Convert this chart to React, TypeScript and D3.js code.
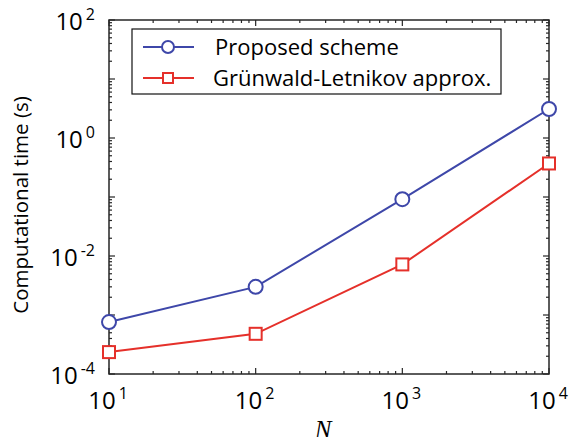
import { useEffect, useRef } from "react";
import * as d3 from "d3";

const nValues = [10, 100, 1000, 10000];
const proposedTimes = [7.6e-4, 3.0e-3, 0.092, 3.1];
const glTimes = [2.35e-4, 4.8e-4, 7.2e-3, 0.37];
const xTickExps = [1, 2, 3, 4];
const yTickExps = [-4, -2, 0, 2];
const seriesNames = ["Proposed scheme", "Grünwald-Letnikov approx."];

const BLUE = "#3e47a9";
const RED = "#e5302a";
const FONT = "'Open Sans', 'Noto Sans', sans-serif";

function App() {
  const ref = useRef<SVGSVGElement>(null);

  useEffect(() => {
    const svg = d3.select(ref.current);
    svg.selectAll("*").remove(); // Clear before redraw

    const width = 580;
    const height = 445;
    const margin = { top: 20, right: 31, bottom: 71, left: 109 };
    const w = width - margin.left - margin.right;
    const h = height - margin.top - margin.bottom;

    const x = d3.scaleLog().domain([10, 1e4]).range([0, w]);
    const y = d3.scaleLog().domain([1e-4, 1e2]).range([h, 0]);

    const g = svg
      .attr("width", width)
      .attr("height", height)
      .style("display", "block")
      .append("g")
      .attr("transform", `translate(${margin.left},${margin.top})`);

    // minor + major ticks, pointing inwards on all four sides
    const axisColor = "#262626";
    const xMinor: number[] = [];
    for (let e = 1; e < 4; e++) for (let k = 2; k <= 9; k++) xMinor.push(k * 10 ** e);
    const yMinor: number[] = [];
    for (let e = -4; e < 2; e++) for (let k = 2; k <= 9; k++) yMinor.push(k * 10 ** e);

    const ticks = g.append("g").attr("stroke", axisColor).attr("stroke-width", 1.2);
    const xMajor = xTickExps.map((e) => 10 ** e);
    const yMajorAll = d3.range(-4, 3).map((e) => 10 ** e);
    xMinor.forEach((v) => {
      ticks.append("line").attr("x1", x(v)).attr("x2", x(v)).attr("y1", h).attr("y2", h - 3);
      ticks.append("line").attr("x1", x(v)).attr("x2", x(v)).attr("y1", 0).attr("y2", 3);
    });
    xMajor.forEach((v) => {
      ticks.append("line").attr("x1", x(v)).attr("x2", x(v)).attr("y1", h).attr("y2", h - 6);
      ticks.append("line").attr("x1", x(v)).attr("x2", x(v)).attr("y1", 0).attr("y2", 6);
    });
    yMinor.forEach((v) => {
      ticks.append("line").attr("x1", 0).attr("x2", 3).attr("y1", y(v)).attr("y2", y(v));
      ticks.append("line").attr("x1", w).attr("x2", w - 3).attr("y1", y(v)).attr("y2", y(v));
    });
    yMajorAll.forEach((v) => {
      ticks.append("line").attr("x1", 0).attr("x2", 6).attr("y1", y(v)).attr("y2", y(v));
      ticks.append("line").attr("x1", w).attr("x2", w - 6).attr("y1", y(v)).attr("y2", y(v));
    });

    // frame
    g.append("rect")
      .attr("width", w)
      .attr("height", h)
      .attr("fill", "none")
      .attr("stroke", axisColor)
      .attr("stroke-width", 1.5);

    // tick labels
    xTickExps.forEach((e) => {
      const t = g
        .append("text")
        .attr("x", x(10 ** e) - 1)
        .attr("y", h + 35)
        .attr("text-anchor", "middle")
        .style("font-family", FONT)
        .style("font-size", "24px")
        .attr("fill", "#000");
      t.append("tspan").text("10");
      t.append("tspan").attr("dx", 3).attr("dy", -10).style("font-size", "16px").text(String(e));
    });
    yTickExps.forEach((e) => {
      const t = g
        .append("text")
        .attr("x", -14)
        .attr("y", y(10 ** e) + 10)
        .attr("text-anchor", "end")
        .style("font-family", FONT)
        .style("font-size", "24px")
        .attr("fill", "#000");
      t.append("tspan").text("10");
      t.append("tspan").attr("dx", 3).attr("dy", -10).style("font-size", "16px").text(e < 0 ? `-${-e}` : String(e));
    });

    // axis titles
    g.append("text")
      .attr("x", w / 2 - 6)
      .attr("y", h + 64)
      .attr("text-anchor", "middle")
      .style("font-family", "'Liberation Serif', 'DejaVu Serif', serif")
      .style("font-style", "italic")
      .style("font-size", "25px")
      .attr("fill", "#000")
      .text("N");
    g.append("text")
      .attr("transform", `translate(${-81},${h / 2 + 8}) rotate(-90)`)
      .attr("text-anchor", "middle")
      .style("font-family", FONT)
      .style("font-size", "20.5px")
      .attr("fill", "#000")
      .text("Computational time (s)");

    // lines
    const line = d3
      .line<number>()
      .x((_, i) => x(nValues[i]))
      .y((d) => y(d));
    g.append("path").datum(proposedTimes).attr("d", line).attr("fill", "none").attr("stroke", BLUE).attr("stroke-width", 2);
    g.append("path").datum(glTimes).attr("d", line).attr("fill", "none").attr("stroke", RED).attr("stroke-width", 2);

    g.selectAll(".circ")
      .data(proposedTimes)
      .enter()
      .append("circle")
      .attr("cx", (_, i) => x(nValues[i]))
      .attr("cy", (d) => y(d))
      .attr("r", 7)
      .attr("fill", "#fff")
      .attr("stroke", BLUE)
      .attr("stroke-width", 2);
    g.selectAll(".sq")
      .data(glTimes)
      .enter()
      .append("rect")
      .attr("x", (_, i) => x(nValues[i]) - 6)
      .attr("y", (d) => y(d) - 6)
      .attr("width", 12)
      .attr("height", 12)
      .attr("fill", "#fff")
      .attr("stroke", RED)
      .attr("stroke-width", 2);

    // legend
    const lg = g.append("g").attr("transform", `translate(${132 - margin.left},${29 - margin.top})`);
    lg.append("rect").attr("width", 369).attr("height", 65).attr("fill", "#fff").attr("stroke", "#111").attr("stroke-width", 1.2);
    seriesNames.forEach((name, i) => {
      const cy = 18 + i * 31;
      const col = i === 0 ? BLUE : RED;
      lg.append("line").attr("x1", 11).attr("x2", 62).attr("y1", cy).attr("y2", cy).attr("stroke", col).attr("stroke-width", 2);
      if (i === 0) {
        lg.append("circle").attr("cx", 36).attr("cy", cy).attr("r", 6).attr("fill", "#fff").attr("stroke", col).attr("stroke-width", 2);
      } else {
        lg.append("rect").attr("x", 31).attr("y", cy - 5).attr("width", 10).attr("height", 10).attr("fill", "#fff").attr("stroke", col).attr("stroke-width", 2);
      }
      lg.append("text")
        .attr("x", i === 0 ? 83 : 81)
        .attr("y", cy + 8)
        .style("font-family", FONT)
        .style("font-size", "22px")
        .attr("fill", "#000")
        .text(name);
    });
  }, []);

  return (
    <div style={{ width: 580, height: 445, margin: -8 }}>
      <svg ref={ref}></svg>
    </div>
  );
}

export default App;
